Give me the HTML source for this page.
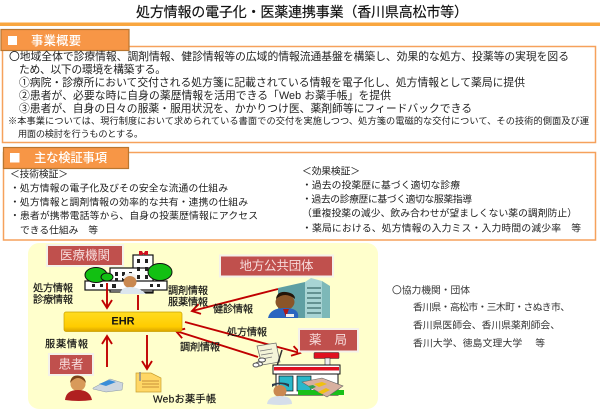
<!DOCTYPE html>
<html lang="ja"><head><meta charset="utf-8">
<style>
html,body{margin:0;padding:0;background:#fff;width:600px;height:410px;overflow:hidden}
svg{display:block}
text{font-family:"Liberation Sans","Noto Sans CJK JP",sans-serif;fill:#222;dominant-baseline:central;white-space:pre}
.a{font-size:10.8px}.s{font-size:9.2px}.b{font-size:9.8px}
.d{font-size:10.2px;fill:#111;stroke:#111;stroke-width:.15px}
.r{font-size:9.8px;fill:#333}
.h{font-size:12.3px;fill:#fff;font-weight:500}
.n{font-size:12.5px;fill:#f6dada}
</style></head><body>
<svg width="600" height="410" viewBox="0 0 600 410" xmlns="http://www.w3.org/2000/svg">
<defs>
<linearGradient id="g" x1="0" y1="0" x2="0" y2="1"><stop offset="0" stop-color="#ffdc20"/><stop offset=".75" stop-color="#ffcc00"/><stop offset="1" stop-color="#d9a400"/></linearGradient>
<marker id="m" markerWidth="11" markerHeight="12" refX="9" refY="6" orient="auto" markerUnits="userSpaceOnUse"><path d="M1 1L9 6L1 11" fill="none" stroke="#c00000" stroke-width="1.900"/></marker>
</defs>
<text x="136" y="12" style="font-size:14px;fill:#111;stroke:#111;stroke-width:.15px" textLength="332">処方情報の電子化・医薬連携事業（香川県高松市等）</text>
<rect x="0" y="22.500" width="600" height="3.500" fill="#f9a63f"/>

<rect x="2.500" y="46.500" width="593" height="96" fill="#fff" stroke="#f6a15c" stroke-width="1.500"/>
<rect x="1" y="29.500" width="128" height="21" fill="#f79646" stroke="#b9762f" stroke-width="1.200"/>
<rect x="8" y="36" width="9" height="9" fill="#fff"/>
<text x="31" y="41" class="h" textLength="50">事業概要</text>
<text x="9" y="57" class="a" textLength="560">〇地域全体で診療情報、調剤情報、健診情報等の広域的情報流通基盤を構築し、効果的な処方、投薬等の実現を図る</text>
<text x="19" y="70" class="a" textLength="147">ため、以下の環境を構築する。</text>
<text x="19" y="83" class="a" textLength="506">①病院・診療所において交付される処方箋に記載されている情報を電子化し、処方情報として薬局に提供</text>
<text x="19" y="96" class="a" textLength="372">②患者が、必要な時に自身の薬歴情報を活用できる「Web お薬手帳」を提供</text>
<text x="19" y="109" class="a" textLength="453">③患者が、自身の日々の服薬・服用状況を、かかりつけ医、薬剤師等にフィードバックできる</text>
<text x="8" y="121" class="s" textLength="581">※本事業については、現行制度において求められている書面での交付を実施しつつ、処方箋の電磁的な交付について、その技術的側面及び運</text>
<text x="18" y="134" class="s" textLength="125">用面の検討を行うものとする。</text>

<rect x="3.500" y="152.500" width="592" height="87.500" fill="#fff" stroke="#f6a15c" stroke-width="1.500"/>
<rect x="3.500" y="147.500" width="125" height="21" fill="#f79646" stroke="#b9762f" stroke-width="1.200"/>
<rect x="10" y="153" width="9.500" height="9.500" fill="#fff"/>
<text x="34" y="158" class="h" textLength="73">主な検証事項</text>
<text x="10" y="175" class="b" textLength="58">＜技術検証＞</text>
<text x="10" y="189" class="b" textLength="218">・処方情報の電子化及びその安全な流通の仕組み</text>
<text x="10" y="203" class="b" textLength="238">・処方情報と調剤情報の効率的な共有・連携の仕組み</text>
<text x="10" y="216.500" class="b" textLength="248">・患者が携帯電話等から、自身の投薬歴情報にアクセス</text>
<text x="20" y="231" class="b" textLength="78">できる仕組み　等</text>
<text x="302" y="172" class="b" textLength="58">＜効果検証＞</text>
<text x="302" y="186" class="b" textLength="158">・過去の投薬歴に基づく適切な診療</text>
<text x="302" y="200" class="b" textLength="170">・過去の診療歴に基づく適切な服薬指導</text>
<text x="302" y="214" class="b" textLength="275">（重複投薬の減少、飲み合わせが望ましくない薬の調剤防止）</text>
<text x="302" y="229" class="b" textLength="279">・薬局における、処方情報の入力ミス・入力時間の減少率　等</text>

<rect x="28" y="243" width="350" height="166" rx="11" fill="#ffffcc"/>

<!-- hospital -->
<rect x="133" y="255" width="20" height="38" fill="#fff" stroke="#111" stroke-width="1.200"/>
<rect x="110" y="268" width="43" height="24" fill="#fff" stroke="#111" stroke-width="1.200"/>
<rect x="85" y="281" width="82" height="9" fill="#fff" stroke="#111" stroke-width="1.200"/>
<path d="M137 259h3v4h-3zM145 259h3v4h-3zM137 267h3v4h-3zM145 267h3v4h-3zM137 275h3v4h-3zM145 275h3v4h-3zM115 272h3v4h-3zM122 272h3v4h-3zM129 272h3v4h-3zM115 278h3v3h-3zM122 278h3v3h-3zM92 284h3v3h-3zM100 284h3v3h-3zM112 284h4v4h-4zM150 284h3v3h-3zM157 284h3v3h-3z" fill="#222"/>
<path d="M139 251h3l1 2h1l1-2h3v4h-3l-1-1h-1l-1 1h-3z" fill="#d01020"/>
<ellipse cx="96" cy="275" rx="11" ry="7.500" fill="#12c012" stroke="#111"/>
<ellipse cx="107" cy="277" rx="6" ry="4" fill="#12c012" stroke="#111"/>
<ellipse cx="160" cy="272" rx="12" ry="8.500" fill="#12c012" stroke="#111"/>
<path d="M123 279q0-6 7-6t7 6z" fill="#f2f2f2"/>
<ellipse cx="130" cy="282" rx="6.500" ry="6" fill="#c98850"/>
<path d="M120 294q1-7 10-7t16 7z" fill="#dce6ee"/>

<path d="M107 283V308" stroke="#c00000" stroke-width="1.900" marker-end="url(#m)" fill="none"/>
<path d="M138 295V310" stroke="#c00000" stroke-width="1.900" fill="none"/>
<path d="M107 367V336" stroke="#c00000" stroke-width="1.900" marker-end="url(#m)" fill="none"/>
<path d="M147 335V369" stroke="#c00000" stroke-width="1.900" marker-end="url(#m)" fill="none"/>
<path d="M278 289L192 311" stroke="#c00000" stroke-width="1.900" marker-end="url(#m)" fill="none"/>
<path d="M185 322L300 353" stroke="#c00000" stroke-width="1.900" marker-end="url(#m)" fill="none"/>
<path d="M258 357L176 331" stroke="#c00000" stroke-width="1.900" marker-end="url(#m)" fill="none"/>

<!-- EHR -->
<rect x="64" y="312" width="118" height="19.500" rx="2" fill="url(#g)" stroke="#c9a000" stroke-width=".7"/>
<text x="123" y="321.500" text-anchor="middle" style="font-size:11px;font-weight:700;fill:#111">EHR</text>

<!-- label boxes -->
<rect x="47" y="245" width="76" height="21" fill="#c0504d" stroke="#f4f1ea" stroke-width="2"/>
<text x="85" y="255.500" text-anchor="middle" class="n" textLength="50">医療機関</text>
<rect x="49" y="354" width="44" height="21" fill="#c0504d" stroke="#f4f1ea" stroke-width="2"/>
<text x="71" y="364.500" text-anchor="middle" class="n" textLength="25">患者</text>
<rect x="220" y="255.500" width="113" height="21" fill="#c0504d" stroke="#f4f1ea" stroke-width="2"/>
<text x="276.500" y="266" text-anchor="middle" class="n" textLength="74">地方公共団体</text>
<rect x="299" y="329" width="59" height="22.500" fill="#c0504d" stroke="#f4f1ea" stroke-width="2"/>
<text x="328" y="340" text-anchor="middle" class="n" textLength="38">薬　局</text>

<!-- labels -->
<text x="33" y="289" class="d" textLength="40">処方情報</text>
<text x="33" y="300.500" class="d" textLength="40">診療情報</text>
<text x="168" y="291.500" class="d" textLength="40">調剤情報</text>
<text x="168" y="303" class="d" textLength="40">服薬情報</text>
<text x="213" y="310" class="d" textLength="40">健診情報</text>
<text x="227" y="333" class="d" textLength="40">処方情報</text>
<text x="180" y="348" class="d" textLength="40">調剤情報</text>
<text x="45" y="345" class="d" textLength="43">服薬情報</text>
<text x="153" y="400" class="d" textLength="63">Webお薬手帳</text>

<!-- government building -->
<path d="M278 288l27-6v36h-27z" fill="#5f9fa3"/>
<path d="M305 282l6-4 11 3v37h-17z" fill="#a8d4d4"/>
<path d="M322 281l8 5v32h-8z" fill="#7db8b8"/>
<path d="M307 288h14M307 293h14M307 298h14M307 303h14M307 308h14M307 313h14" stroke="#1f4f4f"/>
<ellipse cx="285" cy="302" rx="9.500" ry="8" fill="#8a5528"/>
<path d="M276 299q9-8 19 0q0-6-9-7t-10 7z" fill="#231408"/>
<path d="M268 318q2-10 17-10t13 10z" fill="#2a66c0"/>
<path d="M283 309l3 8 3-8z" fill="#b01818"/>
<path d="M286 314h8v3h-8z" fill="#eee"/>

<!-- paper + pills -->
<path d="M257 346l19-3 4 19-18 3z" fill="#f4f4d8" stroke="#666" stroke-width=".7"/>
<path d="M260 351l12-2M261 355l12-2M262 359l10-2" stroke="#777" stroke-width=".7"/>
<path d="M282 350l-5 16" stroke="#333" stroke-width="1.500"/>
<ellipse cx="262" cy="360" rx="3.500" ry="2" fill="#fff" stroke="#555"/><ellipse cx="259" cy="364" rx="3.500" ry="2" fill="#fff" stroke="#555"/><ellipse cx="256" cy="365" rx="3" ry="2" fill="#fff" stroke="#555"/>

<!-- pharmacy -->
<rect x="314" y="352.500" width="25" height="6" rx="1" fill="#e01020" stroke="#333" stroke-width=".6"/>
<rect x="325" y="358" width="5" height="8" fill="#eee" stroke="#333" stroke-width=".6"/>
<rect x="273" y="365" width="67" height="9" fill="#fff" stroke="#111"/>
<rect x="274" y="367" width="65" height="3.500" fill="#e01020"/>
<rect x="276" y="374" width="62" height="21" fill="#fff" stroke="#111"/>
<rect x="279" y="376" width="14" height="15" fill="#29b7c9" stroke="#111" stroke-width=".7"/>
<rect x="297" y="376" width="14" height="15" fill="#29b7c9" stroke="#111" stroke-width=".7"/>
<rect x="298" y="390" width="46" height="5" fill="#19c019"/>
<path d="M302 382l20-4 21 8-16 11-14-8z" fill="#d8b0a0" stroke="#666" stroke-width=".6"/>
<path d="M314 384l8-2 5 2-8 3zM318 392l8-4 4 2-8 4z" fill="#f0c010"/>
<path d="M308 386l5-1 3 2-5 2z" fill="#30a050"/>
<path d="M272 387q8-6 17 0v-3q-8-3-17 0z" fill="#2b3b4a"/>
<ellipse cx="280" cy="391" rx="6.500" ry="6" fill="#c98850"/>
<path d="M267 404q1-8 13-8t12 8q-12 2-25 0z" fill="#d5deea"/>

<!-- patient -->
<ellipse cx="78" cy="384" rx="7.500" ry="7" fill="#d89a5a"/>
<path d="M70 383q8-10 16 0q-1-7-8-7.500t-8 7.500z" fill="#7a4318"/>
<path d="M65 400q1-10 13-10t14 10q-13 2-27 0z" fill="#b02020"/>
<!-- computer -->
<path d="M93 388l17-9 13 4-1 7-16 2-13-3z" fill="#cdd6df" stroke="#8896a4" stroke-width=".5"/>
<path d="M99 384l10-4 7 2-10 4z" fill="#3a8ed8"/>
<!-- note -->
<path d="M136 373h15l10 5v14h-25z" fill="#ffd766" stroke="#c9a030" stroke-width=".7"/>
<path d="M142 381h17M142 384h17M142 387h17" stroke="#b9792a" stroke-width=".8"/>
<path d="M140 372v9" stroke="#8f8f8f" stroke-width="1.600"/>

<!-- partners -->
<text x="392" y="291" class="r" textLength="78">〇協力機関・団体</text>
<text x="413" y="308" class="r" textLength="157">香川県・高松市・三木町・さぬき市、</text>
<text x="413" y="326" class="r" textLength="147">香川県医師会、香川県薬剤師会、</text>
<text x="413" y="344" class="r" textLength="132">香川大学、徳島文理大学　 等</text>
</svg>
</body></html>
